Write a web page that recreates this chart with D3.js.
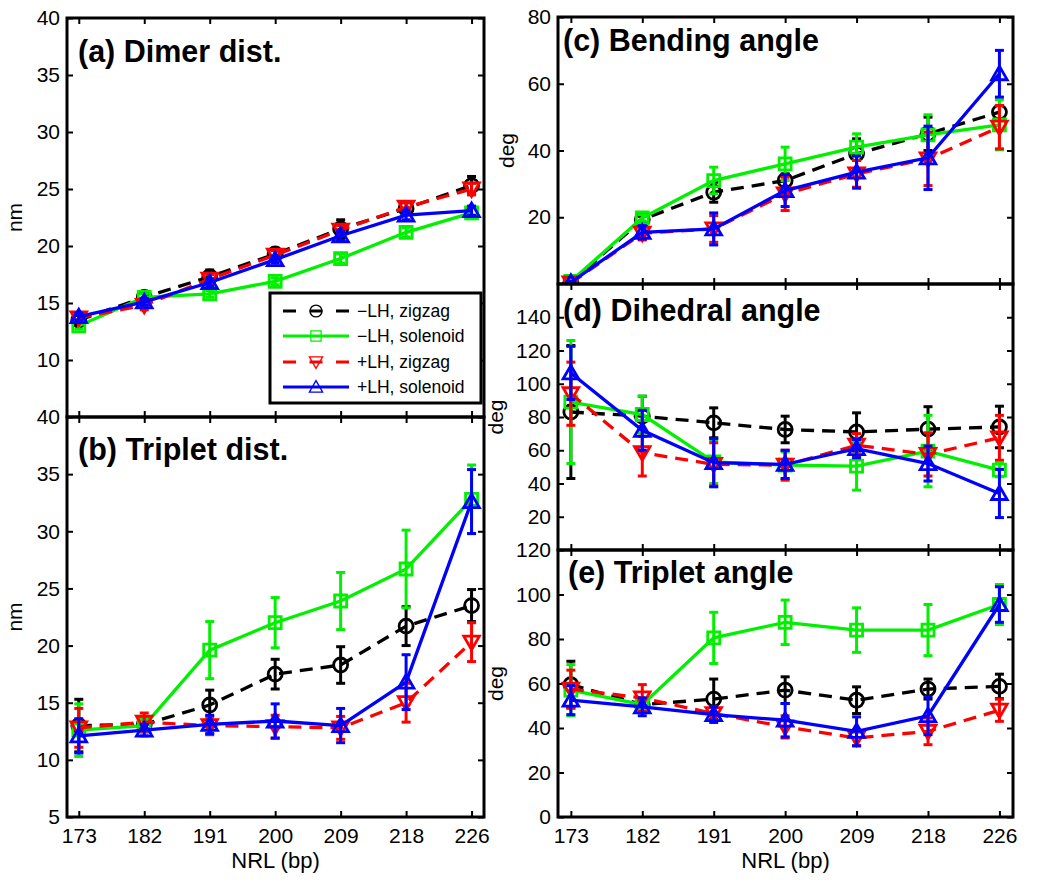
<!DOCTYPE html>
<html><head><meta charset="utf-8">
<script src="https://cdn.jsdelivr.net/npm/d3@7"></script>
<style>body{margin:0;background:#fff;} text{font-family:"Liberation Sans",Arial,Helvetica,sans-serif;}</style>
</head><body><svg id="c" width="1050" height="883"></svg>
<script>
// ---- data ----
const categories = ["173","182","191","200","209","218","226"];
const seriesNames = ["\u2212LH, zigzag","\u2212LH, solenoid","+LH, zigzag","+LH, solenoid"];
const seriesColors = ["#000000","#00f000","#ff0000","#0000ff"];

// (a) Dimer dist. (nm)
const dimerMZ = [13.5, 15.5, 17.3, 19.3, 21.5, 23.3, 25.3];
const dimerMZerr = [0.4, 0.4, 0.6, 0.5, 0.8, 0.5, 0.8];
const dimerMS = [13.0, 15.5, 15.8, 16.9, 18.9, 21.2, 22.9];
const dimerMSerr = [0.3, 0.3, 0.3, 0.3, 0.4, 0.4, 0.5];
const dimerPZ = [13.7, 14.8, 17.1, 19.2, 21.4, 23.4, 25.0];
const dimerPZerr = [0.4, 0.4, 0.4, 0.4, 0.4, 0.4, 0.5];
const dimerPS = [13.8, 15.1, 16.8, 18.8, 20.9, 22.7, 23.1];
const dimerPSerr = [0.3, 0.3, 0.3, 0.3, 0.4, 0.4, 0.4];

// (b) Triplet dist. (nm)
const tripMZ = [13.0, 13.1, 14.8, 17.5, 18.3, 21.7, 23.5];
const tripMZerr = [2.3, 0.5, 1.3, 1.3, 1.6, 1.7, 1.4];
const tripMS = [12.6, 13.0, 19.6, 22.0, 23.9, 26.7, 32.8];
const tripMSerr = [2.3, 0.6, 2.5, 2.2, 2.5, 3.4, 3.0];
const tripPZ = [12.8, 13.3, 13.0, 12.9, 12.8, 15.0, 20.3];
const tripPZerr = [1.7, 0.8, 0.8, 1.0, 1.0, 1.7, 1.7];
const tripPS = [12.1, 12.6, 13.1, 13.4, 13.0, 16.8, 32.6];
const tripPSerr = [1.5, 0.5, 0.8, 1.5, 1.5, 2.4, 2.8];

// (c) Bending angle (deg)
const bendMZ = [0.5, 19.3, 27.5, 31.0, 39.0, 45.0, 51.5];
const bendMZerr = [0.3, 1.0, 3.0, 2.0, 4.5, 5.0, 2.0];
const bendMS = [0.8, 19.8, 31.0, 36.0, 41.0, 44.7, 47.7];
const bendMSerr = [0.3, 1.0, 4.0, 5.0, 4.0, 6.0, 7.5];
const bendPZ = [0.3, 15.2, 16.5, 27.0, 33.0, 37.5, 47.0];
const bendPZerr = [0.3, 2.0, 4.0, 5.0, 4.0, 8.0, 6.5];
const bendPS = [0.5, 15.5, 16.5, 28.0, 33.5, 37.8, 63.0];
const bendPSerr = [0.3, 2.0, 4.8, 4.8, 4.8, 9.5, 7.0];

// (d) Dihedral angle (deg)
const dihMZ = [83, 80.5, 76.5, 72.5, 71, 72.7, 74];
const dihMZerr = [40, 12, 9, 8, 11.5, 13.5, 12.5];
const dihMS = [89, 81.5, 53, 51, 50.5, 59.5, 48];
const dihMSerr = [37, 11, 13, 8, 14.5, 21.5, 4];
const dihPZ = [94, 58.5, 51.5, 51, 63, 57.5, 67.5];
const dihPZerr = [19, 14, 13, 9, 7, 13, 13.5];
const dihPS = [106.5, 72, 52.5, 51.5, 61, 52, 34];
const dihPSerr = [16, 12, 14.5, 8.5, 5.5, 10.5, 14.5];

// (e) Triplet angle (deg)
const tangMZ = [59.5, 50.5, 53, 57, 52.5, 57.5, 58.7];
const tangMZerr = [10.5, 2, 9, 6, 6, 4.5, 5.5];
const tangMS = [57, 50.5, 80.5, 87.5, 84, 84, 95.5];
const tangMSerr = [11.5, 2, 11.5, 10, 10, 11.5, 9];
const tangPZ = [57.5, 53.5, 46.5, 40.5, 35.5, 38.5, 48];
const tangPZerr = [8.5, 6, 3, 5, 3.5, 6, 5];
const tangPS = [52.5, 49.5, 46, 43.5, 38.5, 45.5, 95.5];
const tangPSerr = [6.5, 4, 3.5, 7.5, 6.5, 8.5, 8];

const ticksA = [10,15,20,25,30,35,40];
const ticksB = [5,10,15,20,25,30,35,40];
const ticksC = [20,40,60,80];
const ticksD = [20,40,60,80,100,120,140];
const ticksE = [0,20,40,60,80,100,120];

// ---- layout ----
const panels = [
 {id:"a", title:"(a) Dimer dist.", x0:67,x1:484,y0:18,y1:417, dom:[5,40], ticks:ticksA, ylab:"nm", ylx:22, tx:78, ty:62, xl:false,
  s:[[dimerMZ,dimerMZerr],[dimerMS,dimerMSerr],[dimerPZ,dimerPZerr],[dimerPS,dimerPSerr]]},
 {id:"b", title:"(b) Triplet dist.", x0:67,x1:484,y0:417,y1:817, dom:[5,40], ticks:ticksB, ylab:"nm", ylx:22, tx:78, ty:460, xl:true,
  s:[[tripMZ,tripMZerr],[tripMS,tripMSerr],[tripPZ,tripPZerr],[tripPS,tripPSerr]]},
 {id:"c", title:"(c) Bending angle", x0:558,x1:1013,y0:17,y1:284, dom:[0,80], ticks:ticksC, ylab:"deg", ylx:514, tx:563, ty:51, xl:false,
  s:[[bendMZ,bendMZerr],[bendMS,bendMSerr],[bendPZ,bendPZerr],[bendPS,bendPSerr]]},
 {id:"d", title:"(d) Dihedral angle", x0:558,x1:1013,y0:284,y1:550, dom:[0,160], ticks:ticksD, ylab:"deg", ylx:503, tx:563, ty:321, xl:false,
  s:[[dihMZ,dihMZerr],[dihMS,dihMSerr],[dihPZ,dihPZerr],[dihPS,dihPSerr]]},
 {id:"e", title:"(e) Triplet angle", x0:558,x1:1013,y0:550,y1:817, dom:[0,120], ticks:ticksE, ylab:"deg", ylx:503, tx:568, ty:583, xl:true,
  s:[[tangMZ,tangMZerr],[tangMS,tangMSerr],[tangPZ,tangPZerr],[tangPS,tangPSerr]]}
];

const dashes = ["13,8", null, "13,8", null];

function markerPath(k, sc){
  sc = sc || 1;
  if (k===0){ const r=7*sc; return `M${r},0A${r},${r} 0 1,1 ${-r},0A${r},${r} 0 1,1 ${r},0Z`; }
  if (k===1){ const h=6*sc; return `M${-h},${-h}H${h}V${h}H${-h}Z`; }
  if (k===2){ const w=7.8*sc, t=7.5*sc, b=6*sc; return `M${-w},${-b}H${w}L0,${t}Z`; }
  const w=7.8*sc, t=7.5*sc, b=6*sc; return `M${-w},${b}H${w}L0,${-t}Z`;
}

const svg = d3.select("#c");
const FS = 21;

panels.forEach(p => {
  const x = d3.scaleLinear().domain([0.82,7.19]).range([p.x0,p.x1]);
  const y = d3.scaleLinear().domain(p.dom).range([p.y1,p.y0]);
  const g = svg.append("g");
  const idx = d3.range(1,8);

  svg.append("defs").append("clipPath").attr("id","clip"+p.id)
    .append("rect").attr("x",p.x0).attr("y",p.y0).attr("width",p.x1-p.x0).attr("height",p.y1-p.y0);

  const styleAxis = (ag, showText) => {
    ag.select(".domain").remove();
    ag.selectAll(".tick line").attr("stroke","#000").attr("stroke-width",2);
    ag.selectAll("text").attr("font-size",FS).attr("fill","#000")
      .style("font-family","'Liberation Sans',Arial,sans-serif");
    if(!showText) ag.selectAll("text").remove();
  };
  g.append("g").attr("transform",`translate(${p.x0},0)`)
    .call(d3.axisLeft(y).tickValues(p.ticks).tickSize(-6).tickPadding(7).tickFormat(d3.format("d")))
    .call(a=>styleAxis(a,true));
  g.append("g").attr("transform",`translate(${p.x1},0)`)
    .call(d3.axisRight(y).tickValues(p.ticks).tickSize(-6))
    .call(a=>styleAxis(a,false));
  g.append("g").attr("transform",`translate(0,${p.y1})`)
    .call(d3.axisBottom(x).tickValues(idx).tickSize(-6).tickPadding(11).tickFormat(i=>categories[i-1]))
    .call(a=>styleAxis(a,p.xl));
  g.append("g").attr("transform",`translate(0,${p.y0})`)
    .call(d3.axisTop(x).tickValues(idx).tickSize(-6))
    .call(a=>styleAxis(a,false));

  const dg = g.append("g").attr("clip-path",`url(#clip${p.id})`);
  p.s.forEach((ser,k) => {
    const vals = ser[0], errs = ser[1], col = seriesColors[k];
    const pts = vals.map((v,i)=>({i:i+1,v:v,e:errs[i]}));
    const sg = dg.append("g");
    pts.forEach(d=>{
      const xx = x(d.i), yt = y(d.v+d.e), yb = y(d.v-d.e);
      sg.append("line").attr("x1",xx).attr("x2",xx).attr("y1",yt).attr("y2",yb)
        .attr("stroke",col).attr("stroke-width",3);
      [yt,yb].forEach(yy=>sg.append("line").attr("x1",xx-4.5).attr("x2",xx+4.5).attr("y1",yy).attr("y2",yy)
        .attr("stroke",col).attr("stroke-width",3));
    });
    sg.append("path").datum(pts)
      .attr("d", d3.line().x(d=>x(d.i)).y(d=>y(d.v)))
      .attr("fill","none").attr("stroke",col).attr("stroke-width",3.3)
      .attr("stroke-dasharray",dashes[k]);
    sg.selectAll("path.m").data(pts).enter().append("path").attr("class","m")
      .attr("transform",d=>`translate(${x(d.i)},${y(d.v)})`)
      .attr("d",markerPath(k)).attr("fill","none").attr("stroke",col).attr("stroke-width",2.8);
  });

  g.append("rect").attr("x",p.x0).attr("y",p.y0).attr("width",p.x1-p.x0).attr("height",p.y1-p.y0)
    .attr("fill","none").attr("stroke","#000").attr("stroke-width",3);

  g.append("text").attr("x",p.tx).attr("y",p.ty).attr("font-size",30.5).attr("font-weight","bold")
    .attr("fill","#000").text(p.title);

  g.append("text").attr("transform",`translate(${p.ylx},${(p.y0+p.y1)/2}) rotate(-90)`)
    .attr("text-anchor","middle").attr("font-size",FS).attr("fill","#000").text(p.ylab);

  if (p.xl){
    g.append("text").attr("x",(p.x0+p.x1)/2).attr("y",868).attr("text-anchor","middle")
      .attr("font-size",FS+1).attr("fill","#000").text("NRL (bp)");
  }
});

// legend
const lg = svg.append("g");
lg.append("rect").attr("x",270).attr("y",293).attr("width",211).attr("height",110)
  .attr("fill","#fff").attr("stroke","#000").attr("stroke-width",3);
const legRows = [311,336,362,387];
seriesNames.forEach((nm,k)=>{
  const yy = legRows[k];
  lg.append("line").attr("x1",283).attr("x2",349).attr("y1",yy).attr("y2",yy)
    .attr("stroke",seriesColors[k]).attr("stroke-width",3)
    .attr("stroke-dasharray", dashes[k] ? "13,13.5" : null);
  lg.append("path").attr("transform",`translate(316,${yy})`).attr("d",markerPath(k,0.85))
    .attr("fill","none").attr("stroke",seriesColors[k]).attr("stroke-width",1.3);
  lg.append("text").attr("x",357).attr("y",yy).attr("dy","0.35em").attr("font-size",17.5)
    .attr("fill","#000").text(nm);
});
</script></body></html>
